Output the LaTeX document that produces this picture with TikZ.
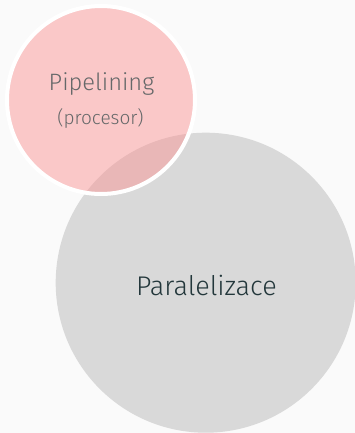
\documentclass[tikz,border=0pt]{standalone}
\usepackage{fontspec}
\setmainfont{Fira Sans Light}
\definecolor{bgc}{HTML}{FAFAFA}
\definecolor{grayc}{HTML}{D9D9D9}
\definecolor{pinkc}{HTML}{FB9191}
\definecolor{darkteal}{HTML}{23373B}
\definecolor{pintext}{HTML}{656869}
\tikzset{
  bigcircle/.style={circle, fill=grayc, minimum size=300pt, inner sep=0pt},
  pinkcircle/.style={circle, fill=pinkc, fill opacity=0.47, draw=white, draw opacity=1, line width=4pt, minimum size=188pt, inner sep=0pt},
  lbl/.style={inner sep=0pt, text=pintext}
}
\begin{document}
\begin{tikzpicture}[x=1pt,y=-1pt]
\fill[bgc] (0,0) rectangle (355,433);
\useasboundingbox (0,0) rectangle (355,433);
\node[bigcircle] (par) at (205.7,282.7) {};
\node[inner sep=0pt, text=darkteal, font=\fontsize{27}{32}\selectfont] (partext) at (206.5,285) {Paralelizace};
\node[pinkcircle] (pip) at (101,100) {};
\node[lbl, font=\fontsize{23.7}{28}\selectfont] (piptext) at (101.5,84) {Pipelining};
\node[lbl, font=\fontsize{19}{23}\selectfont] (proc) at (100.5,118) {(procesor)};
\end{tikzpicture}
\end{document}
